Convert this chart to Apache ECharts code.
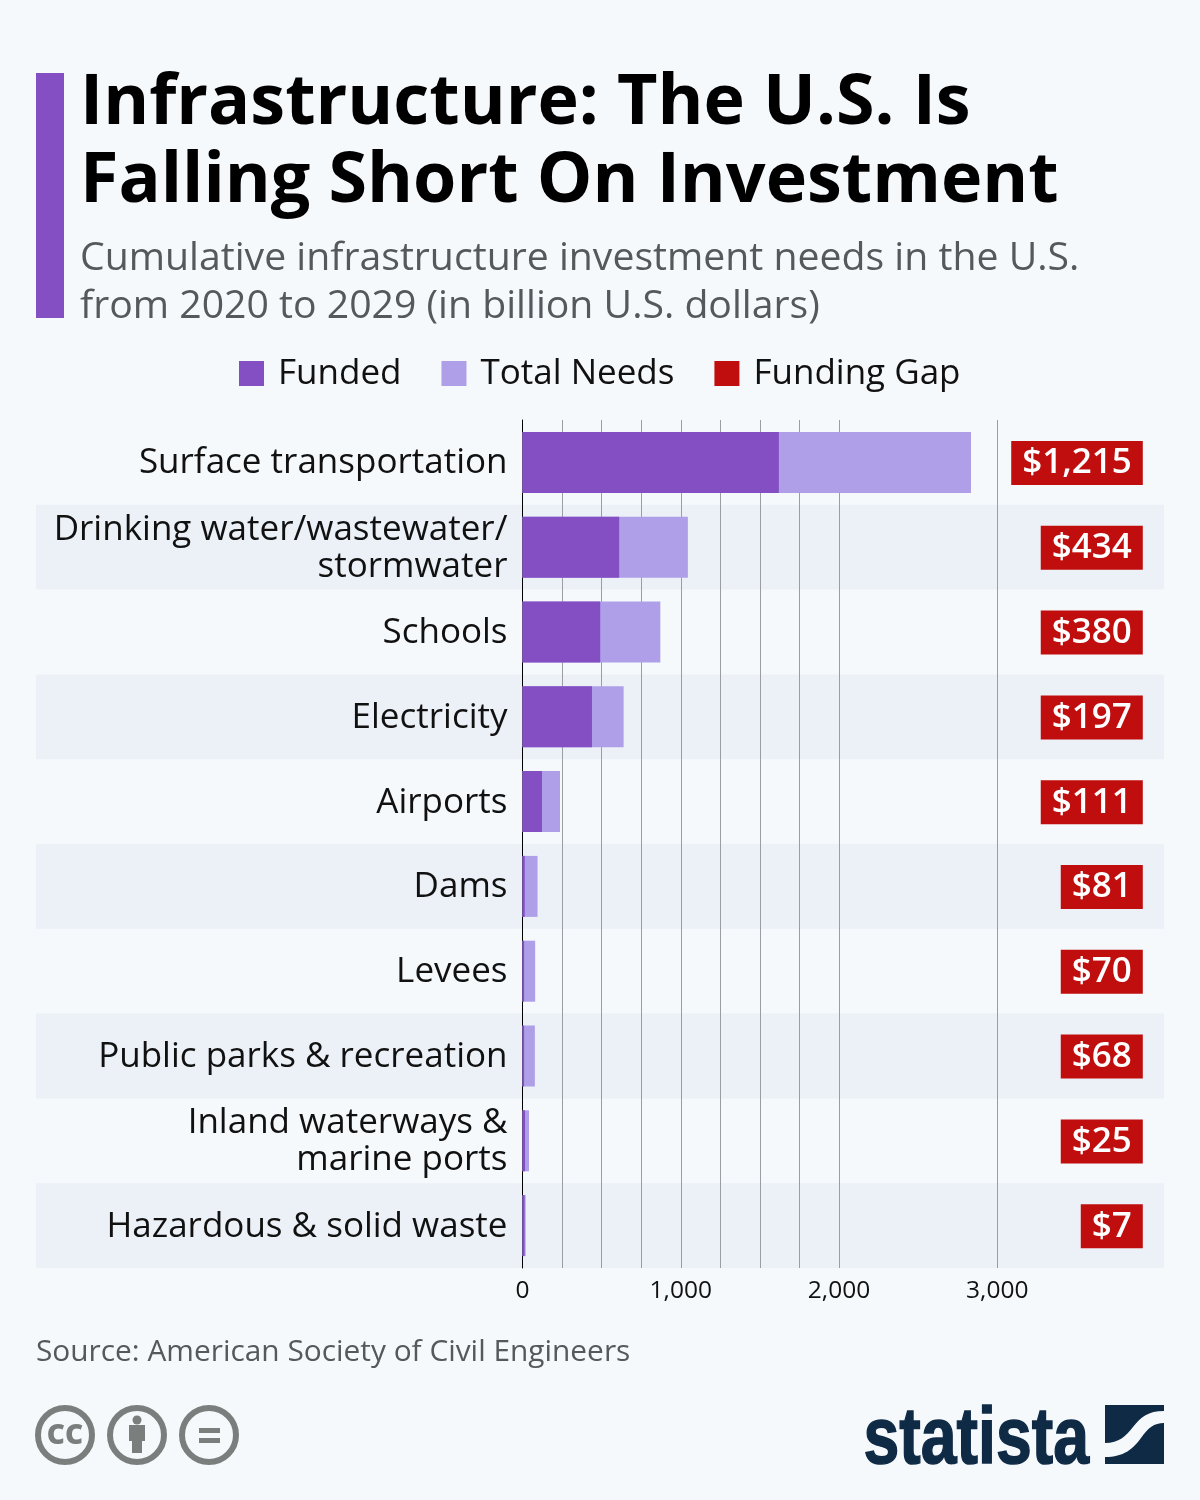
<!DOCTYPE html>
<html>
<head>
<meta charset="utf-8">
<title>Infrastructure: The U.S. Is Falling Short On Investment</title>
<script src="https://cdn.jsdelivr.net/npm/echarts@6/dist/echarts.min.js"></script>
<style>
html, body { margin: 0; padding: 0; background: #f5f9fc; }
#chart { width: 1200px; height: 1500px; }
</style>
</head>
<body>
<div id="chart"></div>
<script>
var categories = ['Surface transportation', 'Drinking water/wastewater/\nstormwater', 'Schools', 'Electricity', 'Airports', 'Dams', 'Levees', 'Public parks & recreation', 'Inland waterways &\nmarine ports', 'Hazardous & solid waste'];
var funded = [1620, 611, 491, 439, 123, 14, 10, 10, 16, 13];
var totalNeeds = [2834, 1045, 871, 639, 237, 95, 80, 78, 41, 20];
var fundingGap = [1215, 434, 380, 197, 111, 81, 70, 68, 25, 7];
var gridTicks = [0, 250, 500, 750, 1000, 1250, 1500, 1750, 2000, 3000];
var tickLabels = [0, 1000, 2000, 3000];

var FONT = '"Open Sans", "Noto Sans", sans-serif';
var myChart = echarts.init(document.getElementById('chart'), null, { width: 1200, height: 1500 });

// svg paths for the licence person and the logo flag
echarts.graphic.registerShape('ccPerson', echarts.graphic.extendPath('M129 1425H145V1441H142V1453H132V1441H129Z', {}));
echarts.graphic.registerShape('flagTop', echarts.graphic.extendPath('M1105 1405H1164V1411C1148 1411 1141 1417 1133 1427C1126 1436 1119 1443 1105 1443Z', {}));
echarts.graphic.registerShape('flagBottom', echarts.graphic.extendPath('M1164 1423V1464H1105V1457C1124 1457 1133 1449 1141 1438C1148 1428 1154 1423 1164 1423Z', {}));

var gapData = fundingGap.map(function (v, i) { return [v, i]; });

function renderGap(params, api) {
    var y = api.coord([0, api.value(1)])[1];
    return {
        type: 'text',
        style: {
            x: params.coordSys.x + params.coordSys.width - 12.7,
            y: y - 21.4,
            text: '$' + api.value(0).toLocaleString('en-US'),
            fill: '#ffffff',
            font: '600 35px ' + FONT,
            align: 'right',
            verticalAlign: 'top',
            backgroundColor: '#c00d0d',
            padding: [0.5, 11, -0.5, 11],
            lineHeight: 44
        }
    };
}

option = {
    backgroundColor: '#f5f9fc',
    animation: false,
    title: [
        {
            text: 'Infrastructure: The U.S. Is\nFalling Short On Investment',
            left: 80, top: 65, padding: 0,
            textStyle: { fontFamily: FONT, fontWeight: 700, fontSize: 70, lineHeight: 78, color: '#000000' }
        },
        {
            text: 'Cumulative infrastructure investment needs in the U.S.\nfrom 2020 to 2029 (in billion U.S. dollars)',
            left: 80, top: 235, padding: 0,
            textStyle: { fontFamily: FONT, fontWeight: 400, fontSize: 39.2, lineHeight: 48, color: '#55595c' }
        },
        {
            text: 'Source: American Society of Civil Engineers',
            left: 36, top: 1334, padding: 0,
            textStyle: { fontFamily: FONT, fontWeight: 400, fontSize: 29.85, lineHeight: 36, color: '#55595c' }
        }
    ],
    legend: {
        left: 239, top: 355,
        itemWidth: 25, itemHeight: 25, itemGap: 40,
        padding: 0,
        icon: 'rect',
        data: ['Funded', 'Total Needs', 'Funding Gap'],
        formatter: function (name) { return '{n|' + name + '}'; },
        textStyle: {
            rich: { n: { fontFamily: FONT, fontSize: 35, color: '#111111', lineHeight: 34, padding: [2, 0, 0, 9] } }
        }
    },
    grid: [
        { left: 522.5, top: 420, width: 633, height: 848 },
        { left: 36, top: 420, width: 1128, height: 848 }
    ],
    xAxis: [
        {
            type: 'value', gridIndex: 0, min: 0, max: 4000,
            axisLine: { show: false },
            axisTick: { show: false, customValues: gridTicks },
            axisLabel: {
                customValues: tickLabels,
                margin: 11,
                fontFamily: FONT, fontSize: 24.5, color: '#111111',
                formatter: function (v) { return v.toLocaleString('en-US'); }
            },
            splitLine: { show: true, lineStyle: { color: '#9a9ea2', width: 1 } }
        },
        { type: 'value', gridIndex: 1, axisLine: { show: false }, axisTick: { show: false }, axisLabel: { show: false }, splitLine: { show: false } }
    ],
    yAxis: [
        {
            type: 'category', gridIndex: 0, inverse: true, data: categories,
            axisLine: { show: true, onZero: false, lineStyle: { color: '#000000', width: 1 } },
            axisTick: { show: false },
            axisLabel: {
                margin: 15, interval: 0, align: 'right',
                formatter: function (v) {
                    return v.split('\n').map(function (l) { return '{n|' + l + '}'; }).join('\n');
                },
                rich: { n: { fontFamily: FONT, fontSize: 35, lineHeight: 37, color: '#111111', align: 'right', padding: [2, 0, 0, 0] } }
            }
        },
        {
            type: 'category', gridIndex: 1, inverse: true, data: categories, z: -1,
            axisLine: { show: false }, axisTick: { show: false }, axisLabel: { show: false },
            splitArea: { show: true, interval: 0, areaStyle: { color: ['rgba(0,0,0,0)', '#ecf1f8'] } }
        }
    ],
    series: [
        {
            name: 'Total Needs', type: 'bar', xAxisIndex: 0, yAxisIndex: 0,
            data: totalNeeds, barWidth: 61, barGap: '-100%', z: 2,
            itemStyle: { color: '#ae9fe8' }
        },
        {
            name: 'Funded', type: 'bar', xAxisIndex: 0, yAxisIndex: 0,
            data: funded, barWidth: 61, barGap: '-100%', z: 3,
            itemStyle: { color: '#854fc4' }
        },
        {
            name: 'Funding Gap', type: 'custom', xAxisIndex: 0, yAxisIndex: 0,
            data: gapData, renderItem: renderGap, z: 4,
            encode: { x: 0, y: 1 }, clip: false,
            itemStyle: { color: '#c00d0d' }
        }
    ],
    graphic: [
        { type: 'rect', shape: { x: 36, y: 73, width: 28, height: 245 }, style: { fill: '#854fc4' } },
        // cc icons
        { type: 'circle', shape: { cx: 65, cy: 1435, r: 27 }, style: { fill: 'none', stroke: '#7a7f7e', lineWidth: 6 } },
        { type: 'text', style: { x: 65, y: 1436, text: 'CC', fill: '#7a7f7e', font: '800 28px ' + FONT, align: 'center', verticalAlign: 'middle' } },
        { type: 'circle', shape: { cx: 137, cy: 1435, r: 27 }, style: { fill: 'none', stroke: '#7a7f7e', lineWidth: 6 } },
        { type: 'circle', shape: { cx: 137, cy: 1420, r: 4.5 }, style: { fill: '#7a7f7e' } },
        { type: 'ccPerson', style: { fill: '#7a7f7e' } },
        { type: 'circle', shape: { cx: 209, cy: 1435, r: 27 }, style: { fill: 'none', stroke: '#7a7f7e', lineWidth: 6 } },
        { type: 'rect', shape: { x: 199, y: 1428, width: 21, height: 5 }, style: { fill: '#7a7f7e' } },
        { type: 'rect', shape: { x: 199, y: 1438, width: 21, height: 5 }, style: { fill: '#7a7f7e' } },
        // statista logo, squeezed since no narrow bold is installed
        { type: 'text', x: 863.5, y: 1481, scaleX: 0.805, style: { x: 0, y: 0, text: 'statista', fill: '#0f2a45', stroke: '#0f2a45', lineWidth: 1.5, font: '700 80px "Liberation Sans", sans-serif', align: 'left', verticalAlign: 'bottom' } },
        { type: 'flagTop', style: { fill: '#0f2a45' } },
        { type: 'flagBottom', style: { fill: '#0f2a45' } }
    ]
};

myChart.setOption(option);
</script>
</body>
</html>
